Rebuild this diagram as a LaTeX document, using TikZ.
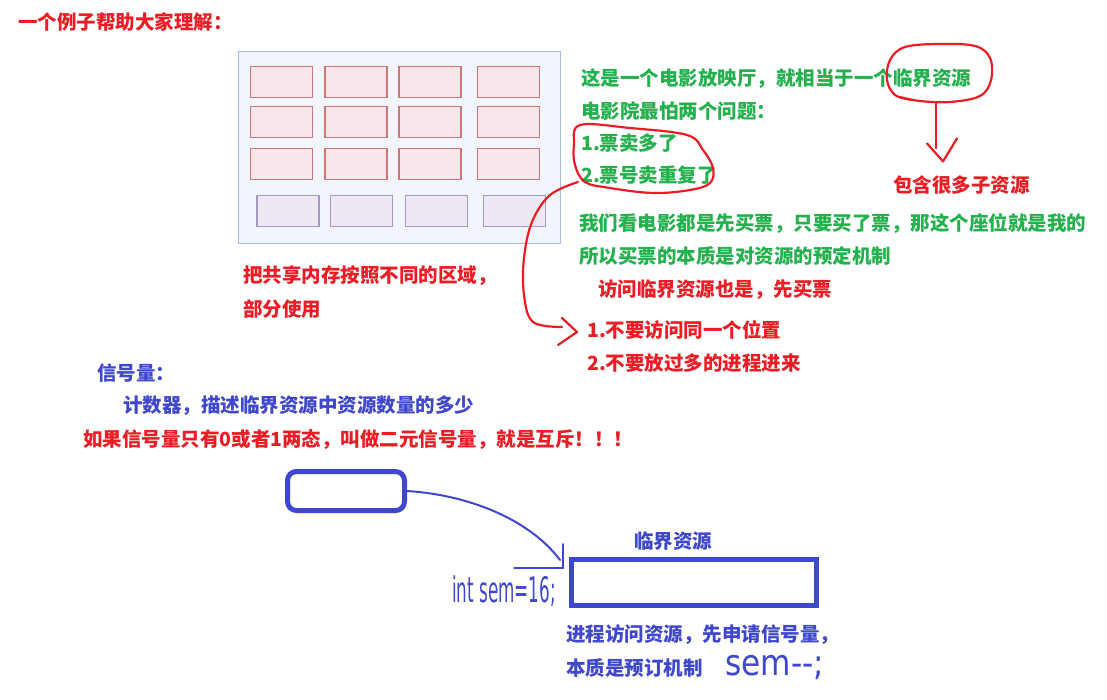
\documentclass[tikz,border=0pt]{standalone}
\usepackage{fontspec}
\usetikzlibrary{calc}
\newfontfamily\cjk{Noto Sans CJK SC}
\newfontfamily\hand{DejaVu Sans}
\definecolor{pred}{HTML}{ED1C24}
\definecolor{pgreen}{HTML}{22B14C}
\definecolor{pblue}{HTML}{3F48CC}
\definecolor{bgfill}{HTML}{F2F5FB}
\definecolor{bgline}{HTML}{AABBDD}
\definecolor{seatfill}{HTML}{F8E6EA}
\definecolor{seatline}{HTML}{C9777A}
\definecolor{vipfill}{HTML}{EEE8F3}
\definecolor{vipline}{HTML}{A898C0}
\begin{document}
\begin{tikzpicture}[x=1pt,y=-1pt,
  txt/.style={anchor=west, inner sep=0, font=\cjk\bfseries\fontsize{19.5}{22}\selectfont},
  rtxt/.style={txt, text=pred},
  gtxt/.style={txt, text=pgreen},
  btxt/.style={txt, text=pblue},
  seat/.style={draw=seatline, fill=seatfill, line width=1.3pt, minimum width=62pt, minimum height=31pt, inner sep=0},
  vip/.style={draw=vipline, fill=vipfill, line width=1.3pt, minimum width=62pt, minimum height=31pt, inner sep=0},
  redpen/.style={draw=pred, line width=2.2pt, line cap=round, line join=round},
  bluepen/.style={draw=pblue, line width=2pt, line cap=round, line join=round},
  handtxt/.style={anchor=west, inner sep=0, text=pblue}]
\useasboundingbox (0,0) rectangle (1107,700);
\fill[white] (0,0) rectangle (1107,700);

% title
\node[rtxt] (title) at (18,22) {一个例子帮助大家理解：};

% cinema hall
\node[draw=bgline, fill=bgfill, line width=1.2pt, minimum width=322pt, minimum height=192pt, inner sep=0] (hall) at (399.5,147.5) {};
\foreach \r/\yy in {1/82,2/121.7,3/163.7}{
  \foreach \c/\xx in {1/281.7,2/356,3/430,4/508.5}{
    \node[seat] (s\r\c) at (\xx,\yy) {};
  }
}
\foreach \c/\xx in {1/288,2/361.5,3/436.5,4/514.5}{
  \node[vip] (v\c) at (\xx,210.7) {};
}

\node[rtxt] (share1) at (243,276) {把共享内存按照不同的区域，};
\node[rtxt] (share2) at (243,309) {部分使用};

% green explanation
\node[gtxt] (g1) at (581,79) {这是一个电影放映厅，就相当于一个临界资源};
\node[gtxt] (g2) at (581,111) {电影院最怕两个问题：};
\node[gtxt] (g3) at (581,143) {1.票卖多了};
\node[gtxt] (g4) at (581,175) {2.票号卖重复了};
\node[rtxt] (sub) at (893,185) {包含很多子资源};
\node[gtxt] (g5) at (579,223) {我们看电影都是先买票，只要买了票，那这个座位就是我的};
\node[gtxt] (g6) at (579,256) {所以买票的本质是对资源的预定机制};
\node[rtxt] (r1) at (598,290) {访问临界资源也是，先买票};
\node[rtxt] (pos1) at (587,330) {1.不要访问同一个位置};
\node[rtxt] (pos2) at (587,363) {2.不要放过多的进程进来};

% red loop around 临界资源 and arrow down
\draw[redpen] plot[smooth, tension=0.6] coordinates {(912,100) (895,95) (887,80) (890,60) (905,47) (940,44) (975,46) (990,58) (991,80) (980,96) (950,102) (920,101) (900,97)};
\coordinate (loopA) at (936,103);
\draw[redpen] (loopA) -- ($(sub.north west)+(43,-27)$);
\draw[redpen] ($(sub.north west)+(34,-32)$) -- ($(sub.north west)+(50,-14)$) -- ($(sub.north west)+(64,-37)$);

% red loop around the two problems
\draw[redpen] plot[smooth cycle, tension=0.6] coordinates {(580,125) (630,128) (687,135) (703,150) (713,168) (710,183) (690,190) (653,193) (610,188) (585,182) (575,165) (574,145)};
\coordinate (loopB) at (578,182);
\draw[redpen] plot[smooth, tension=0.6] coordinates {(loopB) (550,195) (532,222) (524,258) (524,295) (533,322) ($(pos1.west)+(-25,-3)$)};
\draw[redpen] ($(pos1.west)+(-25,-12)$) -- ($(pos1.west)+(-10,2)$) -- ($(pos1.west)+(-29,15)$);

% semaphore text
\node[btxt] (sem1) at (97,373) {信号量：};
\node[btxt] (sem2) at (123,406) {计数器，描述临界资源中资源数量的多少};
\node[rtxt] (sem3) at (83,440) {如果信号量只有0或者1两态，叫做二元信号量，就是互斥！！！};

% semaphore box and critical resource
\node[draw=pblue, line width=5pt, rounded corners=9pt, minimum width=117pt, minimum height=39pt, inner sep=0] (semBox) at (346,491) {};
\node[draw=pblue, line width=5pt, minimum width=245pt, minimum height=46pt, inner sep=0] (crit) at (694,582.5) {};
\node[btxt] (critlbl) at (634,541) {临界资源};
\draw[bluepen] (semBox.east) .. controls (470,495) and (530,520) .. ($(crit.north west)+(-9,3)$);
\draw[bluepen] ($(crit.north west)+(-6,-13)$) -- ($(crit.north west)+(-6,11)$);
\draw[bluepen] ($(crit.north west)+(-55,11)$) -- ($(crit.north west)+(-6,11)$);

\node[handtxt, font=\hand\fontsize{16}{18}\selectfont] (intsem) at (452,591) {\scalebox{1.05}[2.2]{int sem=16;}};

\node[btxt] (p1) at (566,635) {进程访问资源，先申请信号量，};
\node[btxt] (p2) at (566,668) {本质是预订机制};
\node[handtxt, font=\hand\fontsize{24}{26}\selectfont] (semdec) at (725,668) {\scalebox{1.3}[1.5]{sem--;}};
\end{tikzpicture}
\end{document}
